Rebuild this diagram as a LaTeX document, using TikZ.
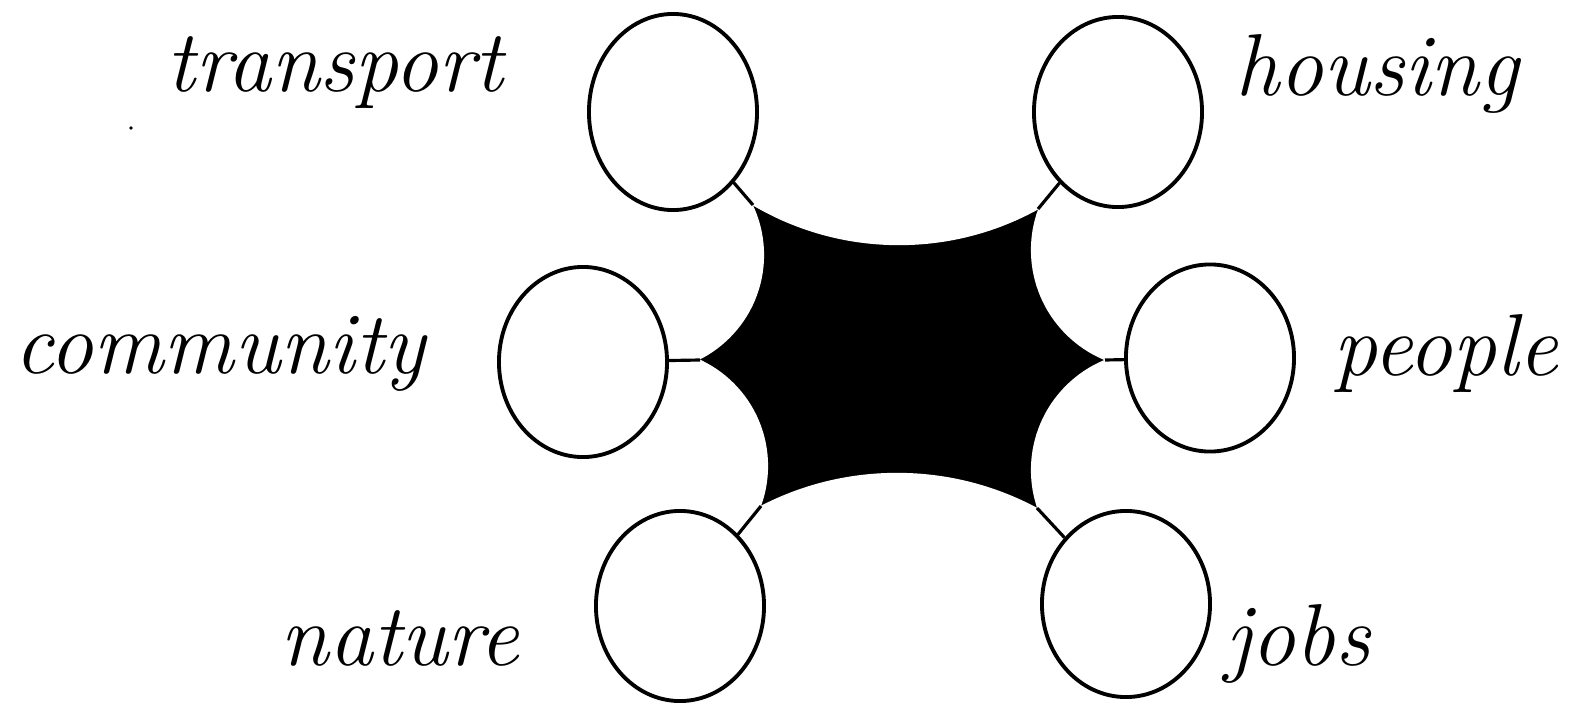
\documentclass[tikz,border=0pt]{standalone}
\usepackage{tikz}
\usetikzlibrary{shapes.geometric}

\begin{document}
\begin{tikzpicture} [x=0.01cm, y=-0.01cm]
	 \tikzstyle{bubble}=[ellipse,draw,line width=1.1pt,minimum width=1.68cm,minimum height=1.9cm,inner sep=0pt]
	 \tikzstyle{word}=[font=\fontsize{25}{30}\selectfont\itshape,anchor=base,inner sep=0pt]
	 \tikzstyle{edge} = [draw,line width=0.9pt,-,black]
	 \useasboundingbox (0,0) rectangle (1590,703);

	 % the black hub between the bubbles
	 \coordinate (c1) at (753,205);
	 \coordinate (c2) at (1038,209);
	 \coordinate (c3) at (1105,360);
	 \coordinate (c4) at (1037,508);
	 \coordinate (c5) at (761,506);
	 \coordinate (c6) at (700,360);
	 \fill[black] (c1) -- (c2) -- (c3) -- (c4) -- (c5) -- (c6) -- cycle;
	 \fill[white] (899,-43) circle (2.88cm);
	 \fill[white] (1150,250) circle (1.19cm);
	 \fill[white] (1150,470) circle (1.19cm);
	 \fill[white] (897,770) circle (2.97cm);
	 \fill[white] (651,466) circle (1.17cm);
	 \fill[white] (647,255) circle (1.17cm);

	 \node[bubble,minimum height=1.96cm] (transport) at (673,112) {};
	 \node[bubble] (community) at (583,362) {};
	 \node[bubble] (nature) at (680,606) {};
	 \node[bubble] (housing) at (1118,112) {};
	 \node[bubble,minimum height=1.87cm] (people) at (1210,358) {};
	 \node[bubble,minimum height=1.86cm] (jobs) at (1126,604) {};

	 \draw[edge] (c1) -- (transport);
	 \draw[edge] (c2) -- (housing);
	 \draw[edge] (c3) -- (people);
	 \draw[edge] (c4) -- (jobs);
	 \draw[edge] (c5) -- (nature);
	 \draw[edge] (c6) -- (community);

	 \node[word] (ltransport) at (335,91) {transport};
	 \node[word] (lcommunity) at (220,373) {community};
	 \node[word] (lnature) at (400,665) {nature};
	 \node[word] (lhousing) at (1377,95) {housing};
	 \node[word] (lpeople) at (1446,375) {people};
	 \node[word] (ljobs) at (1298,665) {jobs};
%	 \node[word] (lhub) at (903,360) {};
	 \fill (131,128) circle (0.018cm);
 \end{tikzpicture}
\end{document}
